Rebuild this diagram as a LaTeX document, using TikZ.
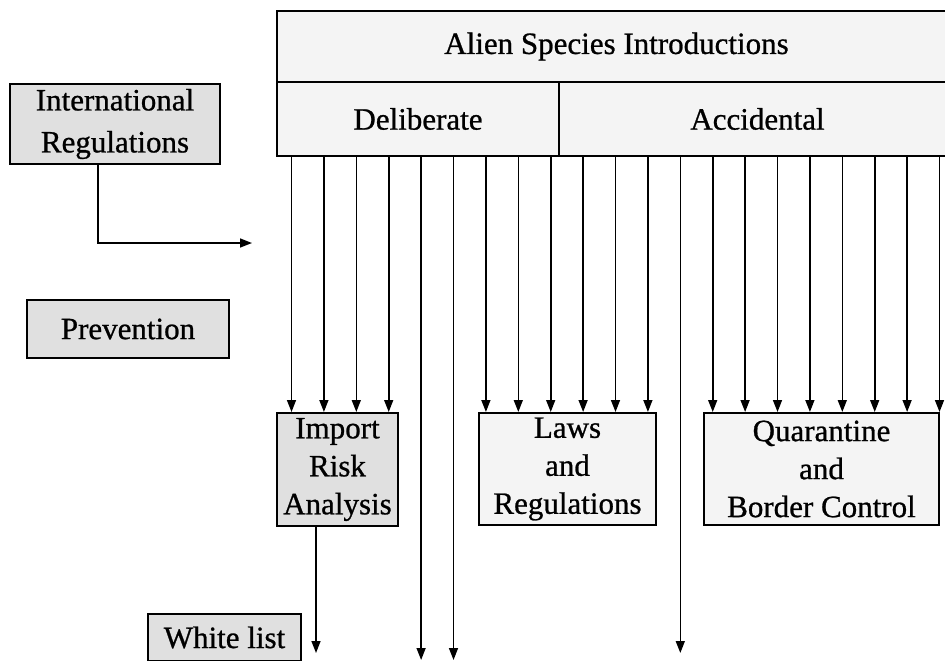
\documentclass[tikz,border=0pt]{standalone}
\usepackage{fontspec}
\setmainfont{Liberation Serif}[FakeBold=0.8]
\usetikzlibrary{arrows.meta,calc}
\begin{document}
\begin{tikzpicture}[x=1pt,y=-1pt,
  box/.style={draw, line width=2pt, fill=gray!16, inner sep=0pt, align=center,
    anchor=north west, font=\fontsize{31}{37}\selectfont},
  light/.style={fill=gray!9},
  dark/.style={fill=gray!24},
  flow/.style={line width=1.6pt, -{Triangle[length=12pt,width=9pt]}},
]
\useasboundingbox (0,0) rectangle (945,661);
\clip (0,0) rectangle (945,661);
\fill[white] (0,0) rectangle (945,661);

% header: introductions split into the two pathways
\node[box, light, minimum width=679pt, minimum height=71pt] (alien) at (276,10) {Alien Species Introductions};
\node[box, light, minimum width=282pt, minimum height=74pt] (delib) at (276,81) {Deliberate};
\node[box, light, minimum width=397pt, minimum height=74pt] (accid) at (558,81) {Accidental};

% side labels
\node[box, dark, minimum width=210pt, minimum height=80pt, font=\fontsize{31}{42}\selectfont] (intl) at (9,83) {International\\Regulations};
\node[box, dark, minimum width=202pt, minimum height=58pt] (prev) at (26,299) {Prevention};

% prevention measures
\node[box, dark, minimum width=121pt, minimum height=113pt, font=\fontsize{31}{38}\selectfont] (imp) at (276,412) {Import\\Risk\\Analysis};
\node[box, light, minimum width=177pt, minimum height=112pt, font=\fontsize{31}{38}\selectfont] (laws) at (478,412) {Laws\\and\\Regulations};
\node[box, light, minimum width=235pt, minimum height=112pt, font=\fontsize{31}{38}\selectfont] (quar) at (703,412) {Quarantine\\and\\Border Control};

\node[box, dark, minimum width=153pt, minimum height=47pt] (white) at (147,613) {White list};

% free ends of the open arrows
\coordinate (bottom) at (0,660);
\coordinate (low) at (0,653);
\coordinate (irend) at (252,243);

% start points along the lower edge of the header
\foreach \i in {0,...,20}
  \coordinate (s\i) at ($(delib.south west)+(15.5+32.4*\i,0)$);

\foreach \i in {0,...,3}
  \draw[flow] (s\i) -- (s\i |- imp.north);
\foreach \i in {4,5}
  \draw[flow] (s\i) -- (s\i |- bottom);
\foreach \i in {6,...,11}
  \draw[flow] (s\i) -- (s\i |- laws.north);
\draw[flow] (s12) -- (s12 |- low);
\foreach \i in {13,...,20}
  \draw[flow] (s\i) -- (s\i |- quar.north);

% international regulations feed in from the left
\coordinate (ir) at ($(intl.south west)+(89,0)$);
\draw[flow] (ir) |- (irend);

% import risk analysis leads down to the white list
\coordinate (wl) at ($(imp.south west)+(40,0)$);
\draw[flow] (wl) -- (wl |- low);
\end{tikzpicture}
\end{document}
